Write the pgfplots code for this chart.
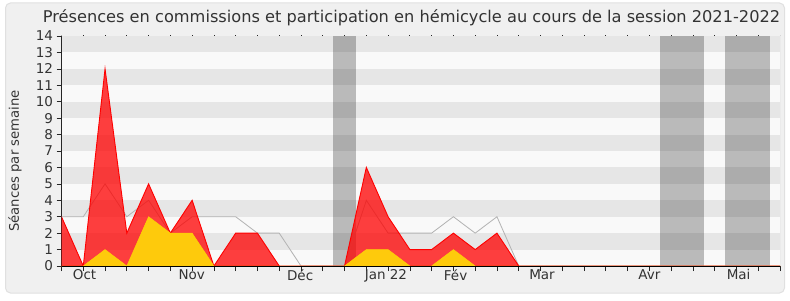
\documentclass[border=0pt]{standalone}
\usepackage{pgfplots}
\pgfplotsset{compat=1.18}
\usepackage{fontspec}
\setmainfont{DejaVu Sans}
\definecolor{panel}{HTML}{F0F0F0}
\definecolor{panelborder}{HTML}{E0E0E0}
\definecolor{bgplot}{HTML}{F9F9F9}
\definecolor{stripe}{HTML}{E6E6E6}
\definecolor{redfill}{HTML}{FF0000}
\definecolor{yellowfill}{HTML}{FFD20A}
\definecolor{txt}{HTML}{333333}
\definecolor{baseline}{HTML}{7A1A10}

\pgfplotstableread{
x red yellow grey
0 3 0 3
1 0 0 3
2 12 1 5
3 2 0 3
4 5 3 4
5 2 2 2
6 4 2 3
7 0 0 3
8 2 0 3
9 2 0 2
10 0 0 2
11 0 0 0
12 0 0 0
13 0 0 0
14 6 1 4
15 3 1 2
16 1 0 2
17 1 0 2
18 2 1 3
19 1 0 2
20 2 0 3
21 0 0 0
22 0 0 0
23 0 0 0
24 0 0 0
25 0 0 0
26 0 0 0
27 0 0 0
28 0 0 0
29 0 0 0
30 0 0 0
31 0 0 0
32 0 0 0
33 0 0 0
}\datatable

\begin{document}
\begin{tikzpicture}
\useasboundingbox (0,0) rectangle (790pt,300pt);
\fill[white] (0,0) rectangle (790pt,300pt);
\filldraw[fill=panel, draw=panelborder, line width=1pt, rounded corners=5pt] (5.5pt,7pt) rectangle (784.5pt,297pt);
\node[font=\fontsize{16.2}{17}\selectfont, text=txt] at (411.5pt,282pt) {Présences en commissions et participation en hémicycle au cours de la session 2021-2022};
\node[font=\fontsize{13.2}{14}\selectfont, text=txt, rotate=90] at (15pt,139pt) {Séances par semaine};
\begin{axis}[
  at={(61.5pt,34pt)}, anchor=south west,
  scale only axis, width=718.5pt, height=230pt,
  xmin=0, xmax=33, ymin=0, ymax=14,
  axis x line*=bottom, axis y line*=left,
  axis line style={black!85, line width=0.8pt},
  xtick={0,...,33}, xticklabels={},
  ytick={0,...,14},
  tick align=outside, major tick length=5pt,
  tick style={black!85, line width=0.7pt},
  extra x ticks={1.06,5.98,10.96,14.9,18.1,22.07,27,31.1},
  extra x tick labels={Oct,Nov,Déc,Jan 22,Fév,Mar,Avr,Mai},
  extra x tick style={major tick length=0pt, tick style={draw=none}},
  tick label style={font=\fontsize{13.5}{14}\selectfont, text=txt},
  /pgf/number format/assume math mode=true,
  axis background/.style={fill=bgplot},
]
% horizontal stripes
\pgfplotsinvokeforeach{1,3,5,7,9,11,13}{
  \fill[stripe] (axis cs:0,#1) rectangle (axis cs:33,#1+1);
}
% vacation bands
\fill[black, fill opacity=0.25] (axis cs:12.47,0) rectangle (axis cs:13.53,14);
\fill[black, fill opacity=0.25] (axis cs:27.5,0) rectangle (axis cs:29.5,14);
\fill[black, fill opacity=0.25] (axis cs:30.47,0) rectangle (axis cs:32.55,14);
% right border
\draw[black!20, line width=0.8pt] (axis cs:33,0) -- (axis cs:33,14);
% top ticks
\pgfplotsinvokeforeach{0,...,33}{
  \draw[black!85, line width=0.8pt] (axis cs:#1,14) -- ++(0,1.2pt);
}
\addplot[black!30, line width=0.8pt] table[x=x, y=grey] {\datatable};
\addplot[draw=red, line width=0.9pt, fill=redfill, fill opacity=0.75] table[x=x, y=red] {\datatable} \closedcycle;
\addplot[draw=none, fill=yellowfill, fill opacity=0.95] table[x=x, y=yellow] {\datatable} \closedcycle;
\addplot[draw=yellow!70!orange, line width=0.5pt] table[x=x, y=yellow] {\datatable};
\draw[black!85, line width=0.8pt] (axis cs:0,0) -- (axis cs:0,14);
\draw[baseline, line width=1pt] (axis cs:0,0) -- (axis cs:33,0);
\end{axis}
\end{tikzpicture}
\end{document}
